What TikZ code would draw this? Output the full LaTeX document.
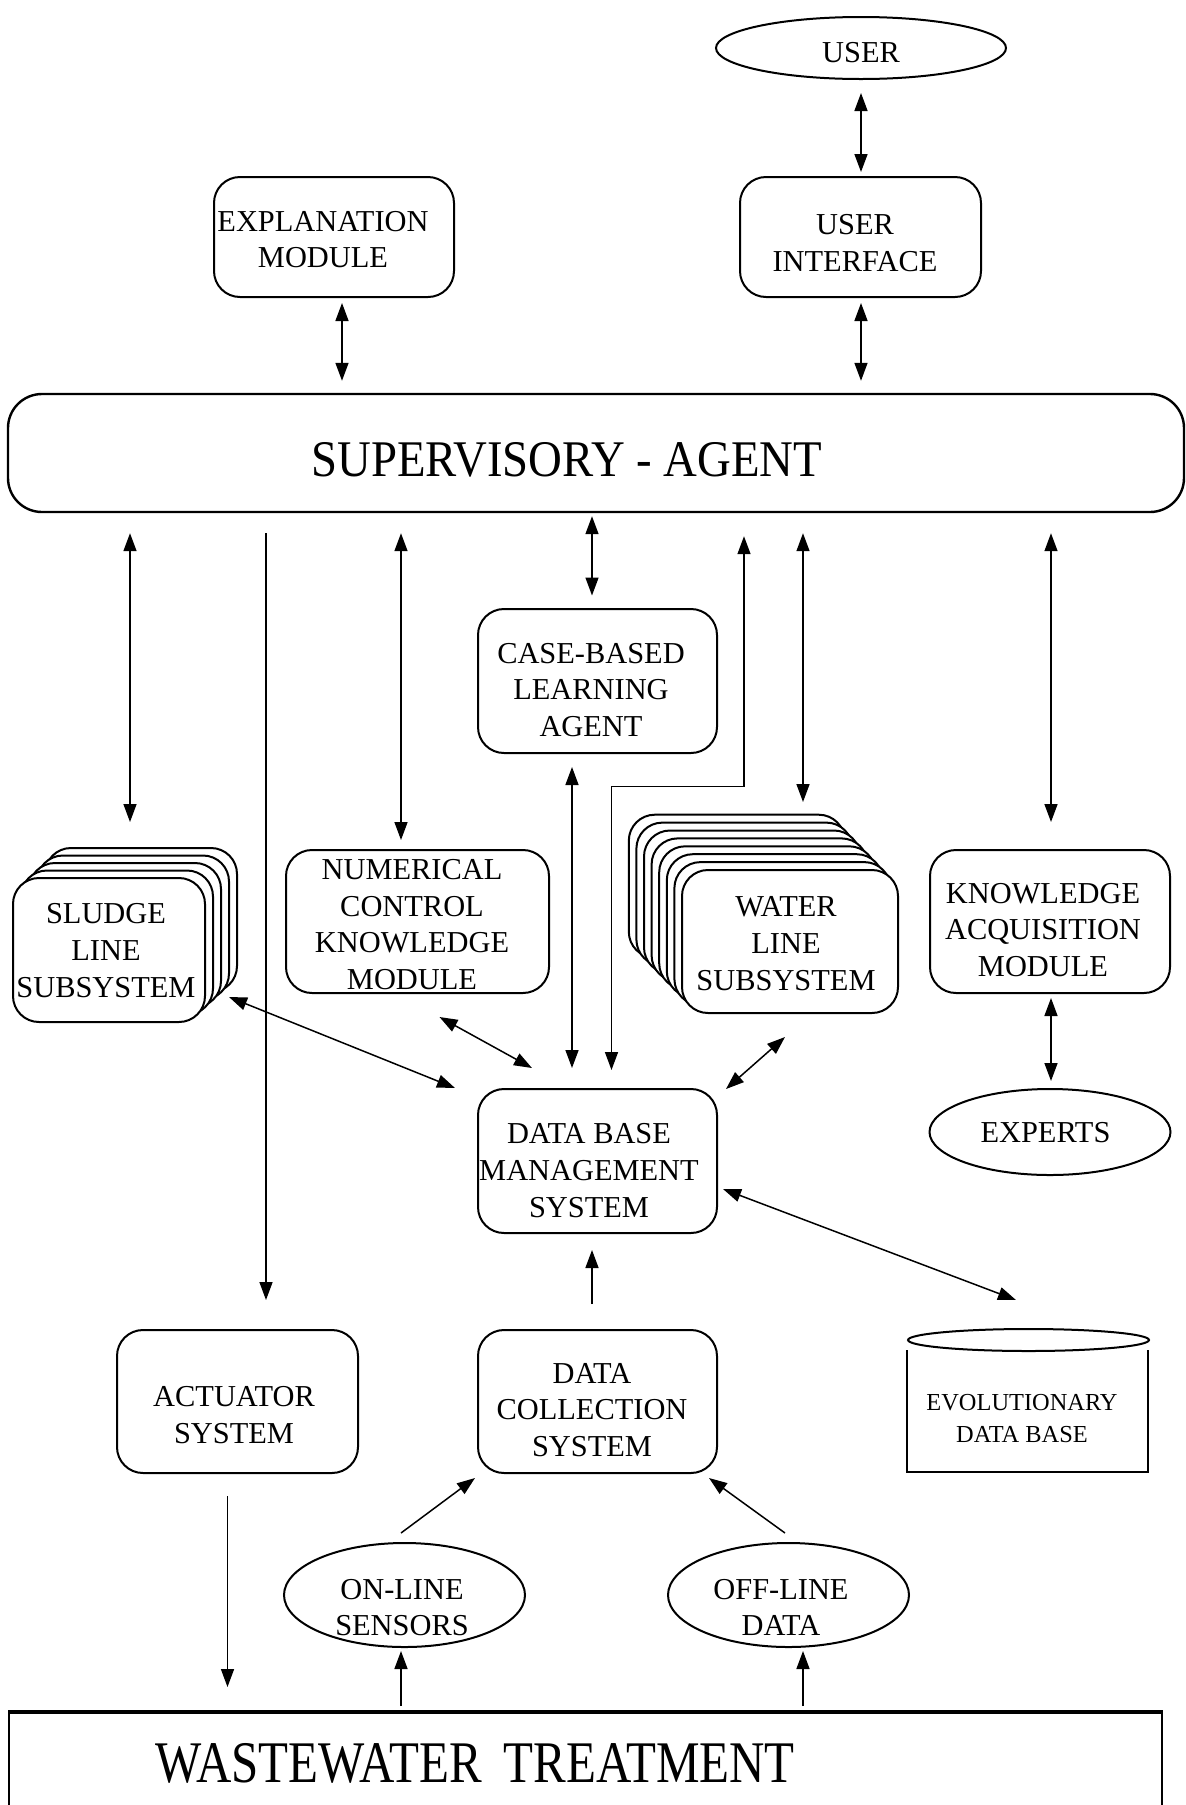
\documentclass[tikz,border=0pt]{standalone}
\usepackage{fontspec}
\setmainfont{Liberation Serif}
\usepackage{graphicx}
\usetikzlibrary{shapes.geometric,arrows.meta,calc}
\begin{document}
\begin{tikzpicture}[x=0.5pt,y=-0.5pt,
  box/.style={draw,line width=1pt,rounded corners=13pt,fill=white,inner sep=0pt},
  oval/.style={draw,line width=1pt,ellipse,fill=white,inner sep=0pt},
  lbl/.style={align=center,inner sep=0pt,font=\fontsize{15.2}{18.3}\selectfont},
  Hd/.tip={Triangle[length=9pt,width=6.5pt]},
  con/.style={line width=0.75pt},
  dbl/.style={con,Hd-Hd},
  one/.style={con,-Hd},
]
\useasboundingbox (0,0) rectangle (1186,1805);

% ---------- top row ----------
\node[oval,minimum width=145pt,minimum height=31pt] (user) at (861,48) {};
\node[lbl] (userT) at (861,53) {USER};

\node[box,minimum width=120pt,minimum height=60pt] (expl) at (334,237) {};
\node[lbl] (explT) at (323,239.5) {EXPLANATION\\MODULE};

\node[box,minimum width=120.5pt,minimum height=60pt] (ui) at (860.5,237) {};
\node[lbl] (uiT) at (855,243) {USER\\INTERFACE};

% ---------- supervisory agent ----------
\node[box,rounded corners=17pt,line width=1.2pt,minimum width=588pt,minimum height=59pt] (sup) at (596,453) {};
\node[inner sep=0pt,font=\fontsize{25.7}{30}\selectfont] (supT) at (567,460) {\scalebox{0.91}[1]{SUPERVISORY - AGENT}};

% ---------- middle modules ----------
\node[box,minimum width=119.5pt,minimum height=72pt] (cbl) at (597.5,681) {};
\node[lbl] (cblT) at (591,690) {CASE-BASED\\LEARNING\\AGENT};

% sludge line subsystem: a stack of five cards
\foreach \k in {4,3,2,1}
  \node[box,minimum width=96pt,minimum height=72pt] (sludge\k) at ({109+8*\k},{950-7.5*\k}) {};
\node[box,minimum width=96pt,minimum height=72pt] (sludge) at (109,950) {};
\node[lbl] (sludgeT) at (106,950.5) {SLUDGE\\LINE\\SUBSYSTEM};

\node[box,minimum width=131.5pt,minimum height=71.5pt] (num) at (417.5,921.5) {};
\node[lbl] (numT) at (412,924.5) {NUMERICAL\\CONTROL\\KNOWLEDGE\\MODULE};

% water line subsystem: a stack of eight cards
\foreach \k in {7,6,5,4,3,2,1}
  \node[box,minimum width=108pt,minimum height=71.5pt] (water\k) at ({790-7.6*\k},{941.5-7.9*\k}) {};
\node[box,minimum width=108pt,minimum height=71.5pt] (water) at (790,941.5) {};
\node[lbl] (waterT) at (786,943.5) {WATER\\LINE\\SUBSYSTEM};

\node[box,minimum width=120pt,minimum height=71.5pt] (kam) at (1050,921.5) {};
\node[lbl] (kamT) at (1043,930) {KNOWLEDGE\\ACQUISITION\\MODULE};

\node[oval,minimum width=120.5pt,minimum height=43pt] (experts) at (1050,1132) {};
\node[lbl] (expertsT) at (1045.5,1133) {EXPERTS};

\node[box,minimum width=119.5pt,minimum height=72pt] (dbms) at (597.5,1161) {};
\node[lbl] (dbmsT) at (589,1170.5) {DATA BASE\\MANAGEMENT\\SYSTEM};

% ---------- lower row ----------
\node[box,minimum width=120.5pt,minimum height=71.5pt] (act) at (237.5,1401.5) {};
\node[lbl] (actT) at (234,1415) {ACTUATOR\\SYSTEM};

\node[box,minimum width=119.5pt,minimum height=71.5pt] (dcs) at (597.5,1401.5) {};
\node[lbl] (dcsT) at (592,1410) {DATA\\COLLECTION\\SYSTEM};

% evolutionary data base drawn as a cylinder
\node[draw,line width=1pt,ellipse,inner sep=0pt,minimum width=120.5pt,minimum height=11pt] (evotop) at (1028.5,1340) {};
\draw[line width=1pt] ($(evotop.west)+(0,10)$) -- ++(0,122) -- ++(241,0) -- ++(0,-122);
\node[align=center,inner sep=0pt,font=\fontsize{12.2}{16}\selectfont] (evoT) at (1022,1419) {EVOLUTIONARY\\DATA BASE};

\node[oval,minimum width=120.5pt,minimum height=52pt] (online) at (404.5,1595) {};
\node[lbl] (onlineT) at (402,1607.5) {ON-LINE\\SENSORS};

\node[oval,minimum width=120.5pt,minimum height=52pt] (offline) at (788.5,1595) {};
\node[lbl] (offlineT) at (781,1607.5) {OFF-LINE\\DATA};

% ---------- plant ----------
\node[draw,line width=1pt,inner sep=0pt,minimum width=576.5pt,minimum height=93.5pt] (ww) at (585.5,1806.5) {};
\draw[line width=1.7pt] (ww.north west) -- (ww.north east);
\node[inner sep=0pt,font=\fontsize{29.5}{30}\selectfont] (wwT) at (475,1763) {\scalebox{0.83}[1]{WASTEWATER\hspace{0.45em}TREATMENT}};

% ---------- connector columns ----------
\coordinate (xA) at (130,0);
\coordinate (xB) at (266,0);
\coordinate (xC) at (401,0);
\coordinate (xD) at (592,0);
\coordinate (xE) at (744,0);
\coordinate (xF) at (611.5,0);
\coordinate (xG) at (803,0);
\coordinate (xI) at (572,0);
\coordinate (lk) at (0,786.5);

% ---------- connectors ----------
\draw[dbl] ($(user.south)+(0,13)$) -- ($(ui.north -| user.south)+(0,-4)$);
\draw[dbl] ($(expl.south)+(8,5)$) -- ($(sup.north -| expl.south)+(8,-12)$);
\draw[dbl] ($(ui.south)+(0.5,5)$) -- ($(sup.north -| ui.south)+(0.5,-12)$);

\draw[dbl] ($(sup.south -| xA)+(0,20)$) -- ($(sludge.north -| xA)+(0,-55)$);
\draw[one] ($(sup.south -| xB)+(0,20)$) -- ($(act.north -| xB)+(0,-29)$);
\draw[dbl] ($(sup.south -| xC)+(0,20)$) -- ($(num.north -| xC)+(0,-9)$);
\draw[dbl] ($(sup.south -| xD)+(0,3)$) -- ($(cbl.north -| xD)+(0,-12.5)$);
\draw[dbl] ($(sup.south -| xE)+(0,23)$) -- (xE |- lk) -- (xF |- lk) -- ($(dbms.north -| xF)+(0,-18)$);
\draw[dbl] ($(sup.south -| xG)+(0,20)$) -- ($(water.north -| xG)+(0,-67)$);
\draw[dbl] ($(sup.south -| kam.north)+(1,20)$) -- ($(kam.north)+(1,-27)$);

\draw[dbl] ($(cbl.south -| xI)+(0,13)$) -- ($(dbms.north -| xI)+(0,-20)$);
\draw[dbl] ($(sludge.east)+(23,47)$) -- ($(dbms.north west)+(-22,0)$);
\draw[dbl] ($(num.south)+(22,23)$) -- ($(dbms.north west)+(55,-20)$);
\draw[dbl] ($(water.south)+(-5,23)$) -- ($(dbms.north east)+(8,1)$);
\draw[dbl] ($(dbms.east)+(5,28)$) -- ($(evotop.north)+(-12.5,-28)$);
\draw[dbl] ($(kam.south)+(1,4)$) -- ($(experts.north)+(1,-7)$);

\draw[one] ($(dcs.north -| xD)+(0,-25)$) -- ($(dbms.south -| xD)+(0,16)$);
\draw[one] ($(act.south)+(-10,22)$) -- ($(ww.north -| act.south)+(-10,-25)$);
\draw[one] ($(online.north)+(-3.5,-9)$) -- ($(dcs.south west)+(-2,4)$);
\draw[one] ($(offline.north)+(-3.5,-9)$) -- ($(dcs.south east)+(-9,4)$);
\draw[one] ($(ww.north -| xC)+(0,-6)$) -- ($(online.south -| xC)+(0,3)$);
\draw[one] ($(ww.north -| xG)+(0,-6)$) -- ($(offline.south -| xG)+(0,3)$);
\end{tikzpicture}
\end{document}
